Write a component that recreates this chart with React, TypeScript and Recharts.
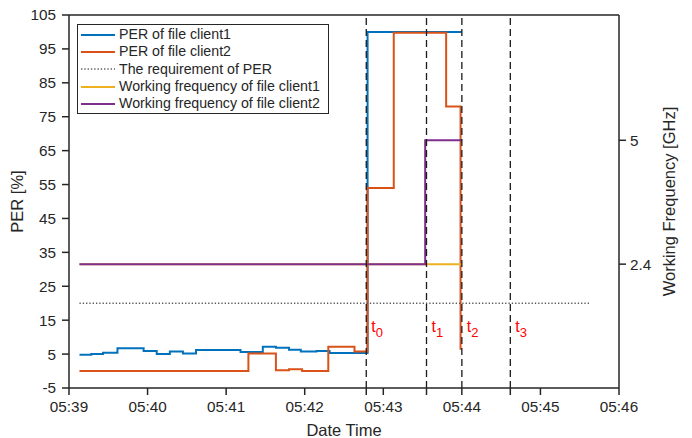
import { ComposedChart, Line, XAxis, YAxis, ReferenceLine, Legend } from 'recharts';

// time in seconds after 05:39:00
const xTicksSec = [0, 60, 120, 180, 240, 300, 360, 420];
const xTickLabels = ['05:39', '05:40', '05:41', '05:42', '05:43', '05:44', '05:45', '05:46'];
const perTicks = [-5, 5, 15, 25, 35, 45, 55, 65, 75, 85, 95, 105];
const freqTicks = [2.4, 5];

// t0..t3 marker times
const eventTimes = [227, 273, 300, 337];
const eventNames = ['0', '1', '2', '3'];

const per1Times = [8, 17, 26, 37, 57, 67, 77, 87, 97, 131, 148, 158, 168, 177, 189, 199, 228, 300];
const per1Values = [4.8, 5.0, 5.4, 6.7, 5.9, 5.0, 5.8, 5.2, 6.2, 5.6, 7.2, 6.9, 6.3, 5.8, 5.9, 5.3, 100, 100];

const per2Times = [8, 137, 158, 168, 178, 198, 218, 228, 248, 288, 299, 300];
const per2Values = [0, 5.2, 0.2, 0.5, 0, 7.2, 5.8, 54, 99.8, 78, 6.6, 6.6];

const reqTimes = [8, 398];
const reqValues = [20, 20];

const freq1Times = [8, 300];
const freq1Values = [2.4, 2.4];

const freq2Times = [8, 272, 300];
const freq2Values = [2.4, 5, 5];

const toRows = (ts: number[], vs: number[]) => ts.map((t, i) => ({ t, v: vs[i] }));

const FONT = '"Liberation Sans", Arial, sans-serif';
const INK = '#262626';

const series = [
  { name: 'PER of file client1', color: '#0072BD', dash: undefined as string | undefined },
  { name: 'PER of file client2', color: '#D95319', dash: undefined },
  { name: 'The requirement of PER', color: '#595959', dash: '1.3 2' },
  { name: 'Working frequency of file client1', color: '#EDB120', dash: undefined },
  { name: 'Working frequency of file client2', color: '#7E2F8E', dash: undefined },
];

const xTickFmt = (v: number) => {
  const i = xTicksSec.indexOf(v);
  return i >= 0 ? xTickLabels[i] : '';
};

const allXTicks = Array.from(new Set([...xTicksSec, ...eventTimes])).sort((a, b) => a - b);

function LegendBox() {
  return (
    <div
      style={{
        width: 252,
        boxSizing: 'border-box',
        border: `1.5px solid ${INK}`,
        background: '#fff',
        padding: '1px 4px 1px 3px',
        fontFamily: FONT,
        fontSize: 14.2,
        color: INK,
        lineHeight: '17.3px',
      }}
    >
      {series.map((s) => (
        <div key={s.name} style={{ display: 'flex', alignItems: 'center', whiteSpace: 'nowrap' }}>
          <svg width={34} height={10} style={{ flex: 'none' }}>
            <line x1={0} y1={5} x2={34} y2={5} stroke={s.color} strokeWidth={s.dash ? 1.3 : 2} strokeDasharray={s.dash} />
          </svg>
          <span style={{ marginLeft: 4 }}>{s.name}</span>
        </div>
      ))}
    </div>
  );
}

const yLabel = (text: string, dx: number) => (props: any) => {
  const { x, y, height } = props.viewBox;
  const cx = x + dx;
  const cy = y + height / 2;
  return (
    <text x={cx} y={cy} transform={`rotate(-90, ${cx}, ${cy})`} textAnchor="middle" dominantBaseline="central"
      fill={INK} fontSize={16.5} fontFamily={FONT}>
      {text}
    </text>
  );
};

const xLabel = (props: any) => {
  const { x, y, width } = props.viewBox;
  return (
    <text x={x + width / 2} y={y + 42} textAnchor="middle" dominantBaseline="central" fill={INK} fontSize={16.5} fontFamily={FONT}>
      Date Time
    </text>
  );
};

const eventLabel = (sub: string) => (props: any) => {
  const { x, y, height } = props.viewBox;
  return (
    <text x={x + 5} y={y + height - 56} fill="#ff0000" fontSize={16} fontFamily={FONT}>
      <tspan>t</tspan>
      <tspan dy={5} fontSize={13}>{sub}</tspan>
    </text>
  );
};

export default function App() {
  const lineData = [
    toRows(per1Times, per1Values),
    toRows(per2Times, per2Values),
    toRows(reqTimes, reqValues),
    toRows(freq1Times, freq1Values),
    toRows(freq2Times, freq2Values),
  ];
  const axisIds = ['left', 'left', 'left', 'right', 'right'];

  return (
    <div style={{ position: 'absolute', left: 0, top: 0, fontFamily: FONT }}>
      <ComposedChart width={692} height={438} margin={{ top: 15, right: 0, bottom: 0, left: 0 }}>
        <XAxis
          dataKey="t"
          type="number"
          domain={[0, 420]}
          ticks={allXTicks}
          tickFormatter={xTickFmt}
          interval={0}
          height={50}
          tickSize={7}
          tickMargin={6}
          stroke={INK}
          strokeWidth={1.5}
          tick={{ fill: INK, fontSize: 15.3, fontFamily: FONT }}
          label={xLabel}
        />
        <YAxis
          yAxisId="left"
          domain={[-5, 105]}
          ticks={perTicks}
          interval={0}
          width={69}
          tickSize={7}
          tickMargin={6}
          stroke={INK}
          strokeWidth={1.5}
          tick={{ fill: INK, fontSize: 15.3, fontFamily: FONT }}
          label={yLabel('PER [%]', 17)}
        />
        <YAxis
          yAxisId="right"
          orientation="right"
          domain={[-0.2, 7.63]}
          ticks={freqTicks}
          interval={0}
          width={73}
          tickSize={7}
          tickMargin={4}
          stroke={INK}
          strokeWidth={1.5}
          tick={{ fill: INK, fontSize: 15.3, fontFamily: FONT }}
          label={yLabel('Working Frequency [GHz]', 50)}
        />
        <ReferenceLine yAxisId="left" y={105} stroke={INK} strokeWidth={1.5} />
        {series.map((s, i) => (
          <Line
            key={s.name}
            data={lineData[i]}
            dataKey="v"
            name={s.name}
            yAxisId={axisIds[i]}
            type="stepAfter"
            stroke={s.color}
            strokeWidth={s.dash ? 1.3 : 2}
            strokeDasharray={s.dash}
            dot={false}
            activeDot={false}
            isAnimationActive={false}
          />
        ))}
        {eventTimes.map((t, i) => (
          <ReferenceLine
            key={t}
            yAxisId="left"
            x={t}
            stroke="#1a1a1a"
            strokeWidth={1.3}
            strokeDasharray="7 4"
            label={eventLabel(eventNames[i])}
          />
        ))}
        <Legend
          content={() => <LegendBox />}
          layout="vertical"
          align="center"
          verticalAlign="middle"
          wrapperStyle={{ left: 77, top: 24, width: 'auto' }}
        />
      </ComposedChart>
    </div>
  );
}
